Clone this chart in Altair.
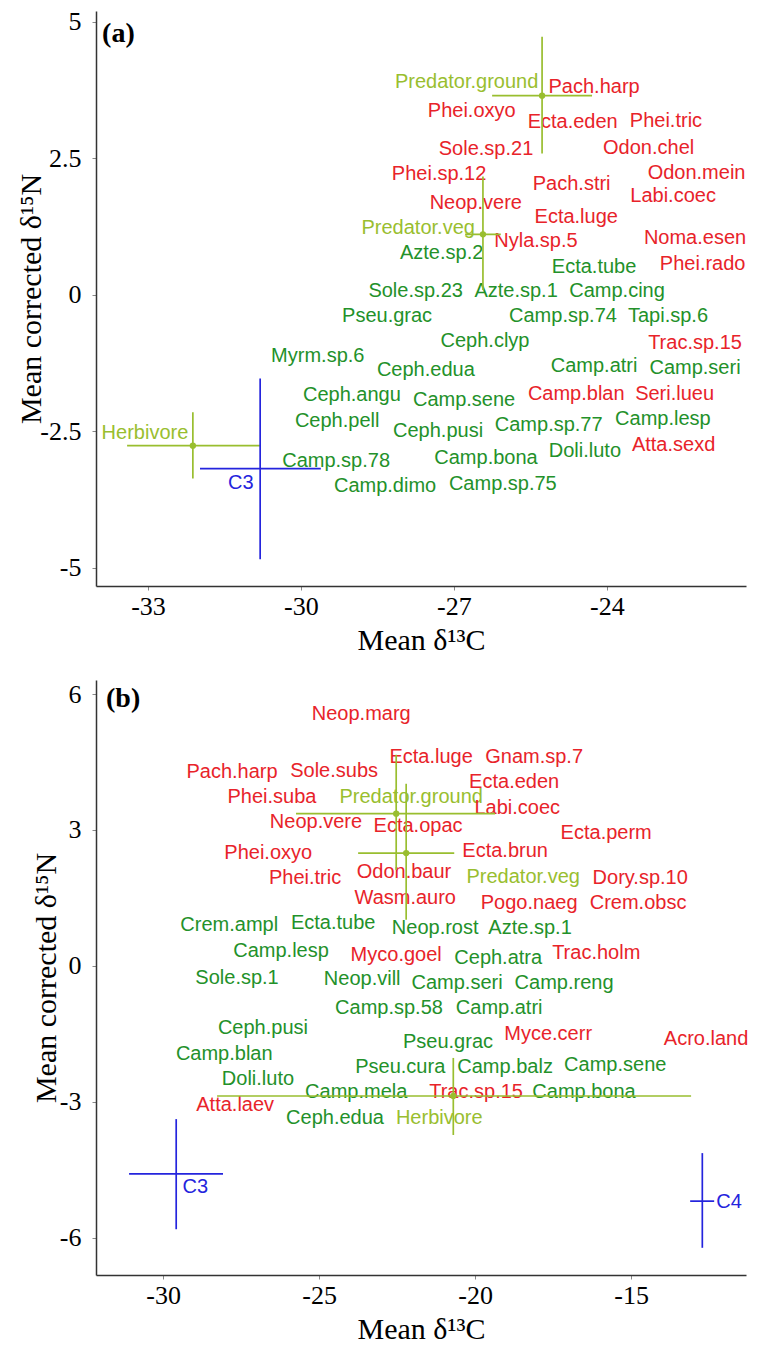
import altair as alt
import pandas as pd

# ---------------- Panel (a) ----------------
labels_a = ["Predator.ground", "Pach.harp", "Phei.oxyo", "Ecta.eden", "Phei.tric", "Sole.sp.21",
            "Odon.chel", "Phei.sp.12", "Odon.mein", "Pach.stri", "Labi.coec", "Neop.vere",
            "Ecta.luge", "Predator.veg", "Nyla.sp.5", "Azte.sp.2", "Noma.esen", "Ecta.tube",
            "Phei.rado", "Sole.sp.23", "Azte.sp.1", "Camp.cing", "Pseu.grac", "Camp.sp.74",
            "Tapi.sp.6", "Ceph.clyp", "Trac.sp.15", "Myrm.sp.6", "Ceph.edua", "Camp.atri",
            "Camp.seri", "Ceph.angu", "Camp.sene", "Camp.blan", "Seri.lueu", "Ceph.pell",
            "Camp.sp.77", "Camp.lesp", "Ceph.pusi", "Herbivore", "Doli.luto", "Atta.sexd",
            "Camp.sp.78", "Camp.bona", "C3", "Camp.dimo", "Camp.sp.75"]
x_a = [-26.75, -24.25, -26.65, -24.67, -22.84, -26.37,
       -23.18, -27.29, -22.24, -24.69, -22.70, -26.57,
       -24.60, -27.70, -25.39, -27.24, -22.27, -24.25,
       -22.12, -27.75, -25.78, -23.80, -28.31, -24.86,
       -22.80, -26.39, -22.27, -29.67, -27.55, -24.25,
       -22.27, -29.00, -26.80, -24.60, -22.67, -29.29,
       -25.14, -22.90, -27.31, -33.06, -24.43, -22.69,
       -29.31, -26.37, -31.18, -28.35, -26.04]
y_a = [3.90, 3.81, 3.36, 3.17, 3.19, 2.68,
       2.70, 2.21, 2.24, 2.04, 1.81, 1.69,
       1.43, 1.22, 0.98, 0.77, 1.04, 0.52,
       0.57, 0.07, 0.07, 0.07, -0.38, -0.38,
       -0.38, -0.84, -0.88, -1.11, -1.37, -1.30,
       -1.33, -1.84, -1.93, -1.81, -1.81, -2.30,
       -2.39, -2.28, -2.50, -2.52, -2.85, -2.74,
       -3.05, -2.99, -3.45, -3.49, -3.47]
grp_a = ["lgreen", "red", "red", "red", "red", "red",
         "red", "red", "red", "red", "red", "red",
         "red", "lgreen", "red", "green", "red", "green",
         "red", "green", "green", "green", "green", "green",
         "green", "green", "red", "green", "green", "green",
         "green", "green", "green", "red", "red", "green",
         "green", "green", "green", "lgreen", "green", "red",
         "green", "green", "blue", "green", "green"]

bar_name_a = ["Predator.ground", "Predator.veg", "Herbivore", "C3"]
bar_cx_a = [-25.27, -26.43, -32.12, -30.80]
bar_cy_a = [3.65, 1.11, -2.76, -3.18]
bar_xlo_a = [-26.25, -26.78, -33.41, -31.98]
bar_xhi_a = [-24.29, -26.08, -30.80, -29.61]
bar_ylo_a = [2.59, 0.09, -3.36, -4.84]
bar_yhi_a = [4.73, 2.17, -2.15, -1.53]
bar_grp_a = ["lgreen", "lgreen", "lgreen", "blue"]
bar_pt_a = [True, True, True, False]

# ---------------- Panel (b) ----------------
labels_b = ["Neop.marg", "Pach.harp", "Sole.subs", "Ecta.luge", "Gnam.sp.7", "Ecta.eden",
            "Phei.suba", "Predator.ground", "Labi.coec", "Neop.vere", "Ecta.opac", "Ecta.perm",
            "Phei.oxyo", "Ecta.brun", "Odon.baur", "Phei.tric", "Predator.veg", "Dory.sp.10",
            "Wasm.auro", "Pogo.naeg", "Crem.obsc", "Crem.ampl", "Ecta.tube", "Neop.rost",
            "Azte.sp.1", "Camp.lesp", "Myco.goel", "Ceph.atra", "Trac.holm", "Sole.sp.1",
            "Neop.vill", "Camp.seri", "Camp.reng", "Camp.sp.58", "Camp.atri", "Ceph.pusi",
            "Pseu.grac", "Myce.cerr", "Acro.land", "Camp.blan", "Pseu.cura", "Camp.balz",
            "Camp.sene", "Doli.luto", "Camp.mela", "Trac.sp.15", "Camp.bona", "Atta.laev",
            "Ceph.edua", "Herbivore", "C3", "C4"]
x_b = [-23.65, -27.79, -24.52, -21.41, -18.11, -18.75,
       -26.51, -22.05, -18.65, -25.10, -21.83, -15.80,
       -26.63, -19.04, -22.28, -25.45, -18.46, -14.71,
       -22.24, -18.27, -14.78, -27.88, -24.55, -21.28,
       -18.24, -26.22, -22.53, -19.26, -16.12, -27.63,
       -23.62, -20.58, -17.15, -22.76, -19.23, -26.80,
       -20.87, -17.66, -12.60, -28.04, -22.40, -19.04,
       -15.51, -26.96, -23.81, -19.97, -16.51, -27.69,
       -24.49, -21.15, -28.97, -11.86]
y_b = [5.56, 4.28, 4.30, 4.61, 4.61, 4.06,
       3.73, 3.73, 3.49, 3.18, 3.09, 2.94,
       2.49, 2.54, 2.08, 1.94, 1.96, 1.94,
       1.50, 1.39, 1.39, 0.91, 0.95, 0.84,
       0.84, 0.33, 0.24, 0.18, 0.29, -0.26,
       -0.29, -0.38, -0.38, -0.93, -0.93, -1.37,
       -1.68, -1.50, -1.61, -1.94, -2.23, -2.23,
       -2.19, -2.49, -2.78, -2.78, -2.78, -3.07,
       -3.36, -3.36, -4.88, -5.21]
grp_b = ["red", "red", "red", "red", "red", "red",
         "red", "lgreen", "red", "red", "red", "red",
         "red", "red", "red", "red", "lgreen", "red",
         "red", "red", "red", "green", "green", "green",
         "green", "green", "red", "green", "red", "green",
         "green", "green", "green", "green", "green", "green",
         "green", "red", "red", "green", "green", "green",
         "green", "green", "green", "red", "green", "red",
         "green", "lgreen", "blue", "blue"]

bar_name_b = ["Predator.ground", "Predator.veg", "Herbivore", "C3", "C4"]
bar_cx_b = [-22.53, -22.21, -20.70, -29.58, -12.72]
bar_cy_b = [3.36, 2.49, -2.87, -4.59, -5.19]
bar_xlo_b = [-25.74, -23.75, -28.27, -31.09, -13.11]
bar_xhi_b = [-19.36, -20.67, -13.08, -28.08, -12.34]
bar_ylo_b = [2.12, 1.02, -3.73, -5.81, -6.22]
bar_yhi_b = [4.66, 4.02, -2.03, -3.38, -4.13]
bar_grp_b = ["lgreen", "lgreen", "lgreen", "blue", "blue"]
bar_pt_b = [True, True, True, False, False]

# panel tags
tag_text = ["(a)", "(b)"]
tag_x = [-33.90, -31.83]
tag_y = [4.78, 5.90]

# axes
xdom_a = [-34.02, -21.27]
ydom_a = [-5.33, 5.20]
xdom_b = [-32.15, -11.32]
ydom_b = [-6.82, 6.31]
xticks_a = [-33, -30, -27, -24]
yticks_a = [-5, -2.5, 0, 2.5, 5]
xticks_b = [-30, -25, -20, -15]
yticks_b = [-6, -3, 0, 3, 6]

grp_domain = ["red", "green", "lgreen", "blue"]
grp_colors = ["#E8232A", "#23912A", "#99BE2F", "#2424DD"]
cscale = alt.Scale(domain=grp_domain, range=grp_colors)

XTITLE = "Mean δ¹³C"
YTITLE = "Mean corrected δ¹⁵N"


def panel(labels, xs, ys, grps, bn, bcx, bcy, bxlo, bxhi, bylo, byhi, bgrp, bpt,
          tag, tx, ty, xdom, ydom, xt, yt, w, h, ytitle_x):
    df = pd.DataFrame({"label": labels, "x": xs, "y": ys, "grp": grps})
    bars = pd.DataFrame({"name": bn, "cx": bcx, "cy": bcy, "xlo": bxlo, "xhi": bxhi,
                         "ylo": bylo, "yhi": byhi, "grp": bgrp, "pt": bpt})
    tagdf = pd.DataFrame({"t": [tag], "x": [tx], "y": [ty]})
    xs_ = alt.Scale(domain=xdom, zero=False, nice=False)
    ys_ = alt.Scale(domain=ydom, zero=False, nice=False)
    xax = alt.Axis(values=xt, title=XTITLE, labelExpr="'' + datum.value")
    yax = alt.Axis(values=yt, title=YTITLE, labelExpr="'' + datum.value",
                   titleX=ytitle_x, titleBaseline="alphabetic")

    def X(f):
        return alt.X(f, type="quantitative", scale=xs_, axis=xax)

    def Y(f):
        return alt.Y(f, type="quantitative", scale=ys_, axis=yax)

    col = alt.Color("grp:N", scale=cscale, legend=None)

    text = alt.Chart(df).mark_text(font="Liberation Sans", fontSize=20,
                                   align="center", baseline="middle").encode(
        x=X("x"), y=Y("y"), text="label:N", color=col)
    hbar = alt.Chart(bars).mark_rule(strokeWidth=1.7).encode(
        x=X("xlo"), x2="xhi:Q", y=Y("cy"), color=col)
    vbar = alt.Chart(bars).mark_rule(strokeWidth=1.7).encode(
        x=X("cx"), y=Y("ylo"), y2="yhi:Q", color=col)
    pts = alt.Chart(bars[bars["pt"]]).mark_point(filled=True, size=40, opacity=1).encode(
        x=X("cx"), y=Y("cy"), color=col)
    tagm = alt.Chart(tagdf).mark_text(font="Liberation Serif", fontSize=28, fontWeight="bold",
                                      align="left", baseline="middle", color="black").encode(
        x=X("x"), y=Y("y"), text="t:N")
    return alt.layer(text, hbar, vbar, pts, tagm).properties(width=w, height=h)


pa = panel(labels_a, x_a, y_a, grp_a, bar_name_a, bar_cx_a, bar_cy_a, bar_xlo_a, bar_xhi_a,
           bar_ylo_a, bar_yhi_a, bar_grp_a, bar_pt_a, tag_text[0], tag_x[0], tag_y[0],
           xdom_a, ydom_a, xticks_a, yticks_a, 650, 575, -56)
pb = panel(labels_b, x_b, y_b, grp_b, bar_name_b, bar_cx_b, bar_cy_b, bar_xlo_b, bar_xhi_b,
           bar_ylo_b, bar_yhi_b, bar_grp_b, bar_pt_b, tag_text[1], tag_x[1], tag_y[1],
           xdom_b, ydom_b, xticks_b, yticks_b, 650, 595, -41)

chart = alt.vconcat(pa, pb, spacing=25).resolve_scale(x="independent", y="independent").properties(
    padding={"left": 8, "top": 0, "right": 0, "bottom": 0}
).configure_view(stroke=None).configure_axis(
    grid=False,
    labelFont="Liberation Serif", labelFontSize=26, labelColor="black",
    titleFont="Liberation Serif", titleFontSize=30, titleFontWeight="normal", titleColor="black",
    domainColor="#333333", domainWidth=1.5, tickColor="#888888", tickSize=4, tickWidth=1,
).configure_axisX(
    labelPadding=3, titlePadding=6
).configure_axisY(
    labelPadding=11
)

chart.save("out.html", embed_options={"renderer": "svg", "actions": False})
